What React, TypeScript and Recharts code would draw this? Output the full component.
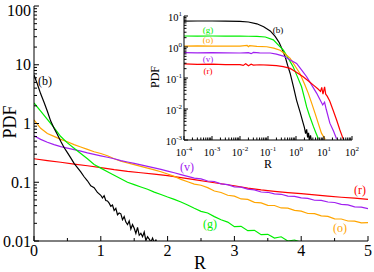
import React from 'react';
import { LineChart, Line, XAxis, YAxis } from 'recharts';

const SERIF = '"Liberation Serif", "Times New Roman", Times, serif';

const BLACK = '#000000';
const GREEN = '#00ee00';
const ORANGE = '#ffa500';
const VIOLET = '#a020f0';
const RED = '#ff0000';

// ---- main panel: PDF of R (linear R, log PDF) ----
const gridX = [
  0, 0.1, 0.2, 0.3, 0.4, 0.5, 0.6, 0.7, 0.8, 0.9, 1.0, 1.1, 1.2, 1.3, 1.4, 1.5, 1.6, 1.7, 1.8, 1.9,
  2.0, 2.1, 2.2, 2.3, 2.4, 2.5, 2.6, 2.7, 2.8, 2.9, 3.0, 3.1, 3.2, 3.3, 3.4, 3.5, 3.6, 3.7, 3.8, 3.9,
  4.0, 4.1, 4.2, 4.3, 4.4, 4.5, 4.6, 4.7, 4.8, 4.9, 5.0,
];
const redX = [0, 0.2, 0.4, 0.6, 0.8, 1.0, 1.2, 1.4, 1.6, 1.8, 2.0, 2.2, 2.4, 2.6, 2.8, 3.0, 3.2, 3.4, 3.6, 3.8, 4.0, 4.2, 4.4, 4.6, 4.8, 5.0];
const blackX = [
  0, 0.05, 0.1, 0.15, 0.2, 0.25, 0.3, 0.35, 0.4, 0.45, 0.5, 0.55, 0.6, 0.65, 0.7, 0.75, 0.8, 0.85, 0.9, 0.95,
  1.0, 1.025, 1.05, 1.075, 1.1, 1.125, 1.15, 1.175, 1.2, 1.225, 1.25, 1.275, 1.3, 1.325, 1.35, 1.375, 1.4,
  1.425, 1.45, 1.475, 1.5, 1.525, 1.55, 1.575, 1.6, 1.625, 1.65, 1.675, 1.7, 1.725, 1.75, 1.775, 1.8, 1.825,
  1.85, 1.875, 1.9,
];

const blackY = [
  6.7, 4.7, 3.2, 2.3, 1.62, 1.1, 0.83, 0.65, 0.5, 0.39, 0.32, 0.26, 0.21, 0.178, 0.15, 0.124, 0.106, 0.087, 0.081, 0.067,
  0.06, 0.054, 0.059, 0.049, 0.048, 0.044, 0.039, 0.041, 0.033, 0.036, 0.028, 0.03, 0.029, 0.023, 0.026, 0.021, 0.019,
  0.022, 0.016, 0.019, 0.0165, 0.0135, 0.017, 0.0125, 0.0135, 0.0118, 0.0142, 0.0102, 0.0118, 0.0108, 0.0096, 0.0112, 0.0094,
  0.0104, 0.0089, 0.0097, 0.0085,
];
const greenY = [
  2.24, 1.62, 1.17, 0.85, 0.6, 0.468, 0.38, 0.309, 0.251, 0.2, 0.174, 0.151, 0.132, 0.115, 0.1, 0.091, 0.083, 0.076, 0.068, 0.062,
  0.056, 0.051, 0.046, 0.041, 0.036, 0.032, 0.03, 0.026, 0.023, 0.021, 0.0175, 0.0178, 0.015, 0.0152, 0.0128, 0.013, 0.0112,
  0.0118, 0.01, 0.0104, 0.0095,
];
const orangeY = [
  1.15, 0.83, 0.676, 0.603, 0.537, 0.49, 0.437, 0.398, 0.363, 0.331, 0.309, 0.282, 0.251, 0.229, 0.214, 0.2, 0.186, 0.174, 0.162, 0.151,
  0.138, 0.126, 0.112, 0.102, 0.093, 0.089, 0.081, 0.071, 0.067, 0.06, 0.058, 0.052, 0.051, 0.0455, 0.0445, 0.0405, 0.0402, 0.0365,
  0.0362, 0.0332, 0.0322, 0.0294, 0.0292, 0.0268, 0.0262, 0.0238, 0.0237, 0.0219, 0.0218, 0.0203, 0.0206,
];
const violetY = [
  0.617, 0.537, 0.479, 0.437, 0.403, 0.38, 0.359, 0.339, 0.316, 0.299, 0.282, 0.266, 0.251, 0.234, 0.221, 0.209, 0.197, 0.186, 0.176, 0.166,
  0.155, 0.145, 0.135, 0.126, 0.1175, 0.114, 0.105, 0.103, 0.094, 0.091, 0.0835, 0.0825, 0.0762, 0.0741, 0.0683, 0.0675, 0.0636, 0.0624,
  0.0581, 0.0575, 0.0541, 0.0532, 0.0494, 0.049, 0.0461, 0.0452, 0.0419, 0.0413, 0.0382, 0.0378, 0.0355,
];
const redY = [
  0.251, 0.234, 0.219, 0.204, 0.191, 0.178, 0.164, 0.153, 0.145, 0.138, 0.13, 0.12, 0.111, 0.102, 0.0944, 0.0871, 0.0794, 0.0741, 0.07,
  0.0668, 0.0638, 0.061, 0.0582, 0.0556, 0.0537, 0.0513,
];

// ---- inset: same PDFs on log-log axes ----
const blackInsetR = [1e-4, 3e-4, 1e-3, 3e-3, 0.01, 0.02, 0.04, 0.07, 0.12, 0.18, 0.25, 0.32, 0.41, 0.5, 0.62, 0.8, 1.05, 1.4, 1.8, 2.0, 2.2, 2.4, 2.6, 2.8, 3.0, 3.3, 3.6];
const blackInsetY = [6.8, 6.9, 6.9, 6.8, 6.7, 6.4, 5.6, 4.5, 3.3, 2.2, 1.4, 0.85, 0.49, 0.26, 0.14, 0.055, 0.019, 0.0079, 0.0035, 0.0025, 0.0016, 0.0022, 0.0012, 0.0017, 0.001, 0.0014, 0.0009];
const greenInsetR = [1e-4, 3e-4, 1e-3, 3e-3, 0.01, 0.02, 0.04, 0.08, 0.155, 0.25, 0.355, 0.5, 0.79, 1.1, 1.58, 2.0, 2.4, 3.0, 4.2, 5.2, 6.3];
const greenInsetY = [2.26, 2.25, 2.26, 2.24, 2.23, 2.22, 2.2, 2.1, 1.7, 1.09, 0.79, 0.47, 0.23, 0.115, 0.052, 0.023, 0.0117, 0.0063, 0.0027, 0.00166, 0.0011];
const orangeInsetR = [1e-4, 3e-4, 1e-3, 3e-3, 0.01, 0.018, 0.02, 0.022, 0.04, 0.09, 0.16, 0.27, 0.42, 0.62, 0.95, 1.38, 2.0, 2.75, 3.6, 4.8, 6.2, 8.1, 11];
const orangeInsetY = [1.07, 1.08, 1.06, 1.07, 1.06, 1.12, 1.02, 1.1, 1.05, 1.02, 0.92, 0.79, 0.58, 0.43, 0.235, 0.14, 0.065, 0.032, 0.0158, 0.0072, 0.0035, 0.00166, 0.00105];
const violetInsetR = [1e-4, 3e-4, 1e-3, 3e-3, 0.01, 0.02, 0.025, 0.03, 0.05, 0.12, 0.2, 0.355, 0.6, 1.05, 1.6, 2.4, 3.6, 5.5, 7.0, 9.0, 10.5, 12, 16.2, 22, 28];
const violetInsetY = [0.66, 0.65, 0.66, 0.65, 0.64, 0.66, 0.61, 0.67, 0.65, 0.64, 0.59, 0.51, 0.39, 0.295, 0.18, 0.11, 0.06, 0.032, 0.021, 0.0135, 0.0165, 0.0098, 0.0035, 0.0019, 0.0011];
const redInsetR = [1e-4, 3e-4, 1e-3, 3e-3, 0.01, 0.013, 0.016, 0.02, 0.025, 0.03, 0.05, 0.1, 0.2, 0.35, 0.62, 1.0, 1.8, 3.0, 4.2, 6.0, 7.5, 8.3, 9.2, 10.5, 11.5, 13, 16, 21, 28, 37, 49];
const redInsetY = [0.285, 0.275, 0.28, 0.272, 0.27, 0.255, 0.29, 0.25, 0.28, 0.262, 0.268, 0.262, 0.25, 0.232, 0.204, 0.155, 0.11, 0.076, 0.059, 0.045, 0.037, 0.05, 0.03, 0.052, 0.03, 0.026, 0.018, 0.0093, 0.0045, 0.0021, 0.00105];

// ---- ticks ----
const mainXMajor = [0, 1, 2, 3, 4, 5];
const mainXMinor = [0.5, 1.5, 2.5, 3.5, 4.5];
const mainYMajor = [0.01, 0.1, 1, 10, 100];
const mainYLabels = ['0.01', '0.1', '1', '10', '100'];
const insetXMajor = [1e-4, 1e-3, 1e-2, 1e-1, 1, 10, 100];
const insetXExp = ['-4', '-3', '-2', '-1', '0', '1', '2'];
const insetYMajor = [1e-3, 1e-2, 1e-1, 1, 10];
const insetYExp = ['-3', '-2', '-1', '0', '1'];

const logMinors = (majors: number[]) => {
  const out: number[] = [];
  for (let i = 0; i < majors.length - 1; i++) {
    for (let m = 2; m <= 9; m++) out.push(m * majors[i]);
  }
  return out;
};

const mainXTicks = [...mainXMajor, ...mainXMinor];
const mainYTicks = [...mainYMajor, ...logMinors(mainYMajor)];
const insetXTicks = [...insetXMajor, ...logMinors(insetXMajor)];
const insetYTicks = [...insetYMajor, ...logMinors(insetYMajor)];

const zip = (xs: number[], ys: number[]) => ys.map((y, i) => ({ x: xs[i], y }));

type Side = 'left' | 'right' | 'top' | 'bottom';

// inward tick marks, labels only on majors
function tickRenderer(
  side: Side,
  majors: number[],
  majorLen: number,
  minorLen: number,
  label?: (i: number, x: number, y: number) => React.ReactNode,
) {
  return (props: any) => {
    const { x, y, payload } = props;
    const idx = majors.indexOf(payload.value);
    const len = idx >= 0 ? majorLen : minorLen;
    const dx = side === 'left' ? len : side === 'right' ? -len : 0;
    const dy = side === 'bottom' ? -len : side === 'top' ? len : 0;
    return (
      <g>
        <line x1={x} y1={y} x2={x + dx} y2={y + dy} stroke="#000" strokeWidth={1} />
        {idx >= 0 && label ? label(idx, x, y) : null}
      </g>
    );
  };
}

const mainYLabel = (i: number, x: number, y: number) => (
  <text x={x - 3} y={y} dy={i === mainYLabels.length - 1 ? 9.5 : 5.5} textAnchor="end" fontFamily={SERIF} fontSize={16} fill="#000">
    {mainYLabels[i]}
  </text>
);
const mainXLabel = (i: number, x: number, y: number) => (
  <text x={x} y={y + 15} textAnchor="middle" fontFamily={SERIF} fontSize={16} fill="#000">
    {mainXMajor[i]}
  </text>
);
const insetXLabel = (i: number, x: number, y: number) => (
  <text x={x} y={y + 16} textAnchor="middle" fontFamily={SERIF} fontSize={10.5} fill="#000">
    <tspan>10</tspan>
    <tspan dy={-5} fontSize={7}>{insetXExp[i]}</tspan>
  </text>
);
const insetYLabel = (i: number, x: number, y: number) => (
  <text x={x - 2} y={y + 5} textAnchor="end" fontFamily={SERIF} fontSize={10.5} fill="#000">
    <tspan>10</tspan>
    <tspan dy={-5} fontSize={7}>{insetYExp[i]}</tspan>
  </text>
);

const axisCommon = {
  allowDataOverflow: true,
  interval: 0 as const,
  tickSize: 0,
  tickMargin: 0,
  tickLine: false,
  axisLine: { stroke: '#000', strokeWidth: 1 },
};

const mainSeries = [
  { name: 'r', color: RED, data: zip(redX, redY) },
  { name: 'o', color: ORANGE, data: zip(gridX, orangeY) },
  { name: 'v', color: VIOLET, data: zip(gridX, violetY) },
  { name: 'g', color: GREEN, data: zip(gridX, greenY) },
  { name: 'b', color: BLACK, data: zip(blackX, blackY) },
];
const insetSeries = [
  { name: 'b', color: BLACK, data: zip(blackInsetR, blackInsetY) },
  { name: 'g', color: GREEN, data: zip(greenInsetR, greenInsetY) },
  { name: 'o', color: ORANGE, data: zip(orangeInsetR, orangeInsetY) },
  { name: 'v', color: VIOLET, data: zip(violetInsetR, violetInsetY) },
  { name: 'r', color: RED, data: zip(redInsetR, redInsetY) },
];

function MainPanel() {
  return (
    <LineChart width={374} height={272} margin={{ top: 6, right: 6, bottom: 0, left: 0 }}>
      <XAxis xAxisId="b" type="number" dataKey="x" domain={[0, 5]} ticks={mainXTicks} height={31}
        {...axisCommon} tick={tickRenderer('bottom', mainXMajor, 5, 3, mainXLabel)} />
      <XAxis xAxisId="t" orientation="top" type="number" dataKey="x" domain={[0, 5]} ticks={mainXTicks} height={0}
        {...axisCommon} tick={tickRenderer('top', mainXMajor, 5, 3)} />
      <YAxis yAxisId="l" type="number" scale="log" domain={[0.01, 100]} ticks={mainYTicks} width={34}
        {...axisCommon} tick={tickRenderer('left', mainYMajor, 5, 3, mainYLabel)} />
      <YAxis yAxisId="r" orientation="right" type="number" scale="log" domain={[0.01, 100]} ticks={mainYTicks} width={0}
        {...axisCommon} tick={tickRenderer('right', mainYMajor, 5, 3)} />
      {mainSeries.map((s) => (
        <Line key={s.name} xAxisId="b" yAxisId="l" data={s.data} dataKey="y" type="linear"
          stroke={s.color} strokeWidth={1.2} dot={false} isAnimationActive={false} />
      ))}
    </LineChart>
  );
}

function InsetPanel() {
  return (
    <LineChart width={224} height={172} margin={{ top: 16, right: 12, bottom: 0, left: 0 }}>
      <XAxis xAxisId="b" type="number" scale="log" dataKey="x" domain={[1e-4, 100]} ticks={insetXTicks} height={32}
        {...axisCommon} tick={tickRenderer('bottom', insetXMajor, 4, 2.5, insetXLabel)} />
      <XAxis xAxisId="t" orientation="top" type="number" scale="log" dataKey="x" domain={[1e-4, 100]} ticks={insetXTicks} height={0}
        {...axisCommon} tick={tickRenderer('top', insetXMajor, 4, 2.5)} />
      <YAxis yAxisId="l" type="number" scale="log" domain={[1e-3, 10]} ticks={insetYTicks} width={44}
        {...axisCommon} tick={tickRenderer('left', insetYMajor, 4, 2.5, insetYLabel)} />
      <YAxis yAxisId="r" orientation="right" type="number" scale="log" domain={[1e-3, 10]} ticks={insetYTicks} width={0}
        {...axisCommon} tick={tickRenderer('right', insetYMajor, 4, 2.5)} />
      {insetSeries.map((s) => (
        <Line key={s.name} xAxisId="b" yAxisId="l" data={s.data} dataKey="y" type="linear"
          stroke={s.color} strokeWidth={1.2} dot={false} isAnimationActive={false} />
      ))}
    </LineChart>
  );
}

// series tags and axis titles
const tags = [
  { t: '(b)', x: 45, y: 85, c: BLACK, s: 12 },
  { t: '(v)', x: 187, y: 171, c: VIOLET, s: 12 },
  { t: '(r)', x: 360, y: 194, c: RED, s: 12 },
  { t: '(o)', x: 340, y: 232, c: ORANGE, s: 12 },
  { t: '(g)', x: 210, y: 228, c: GREEN, s: 12 },
  { t: '(g)', x: 208, y: 33, c: GREEN, s: 9 },
  { t: '(o)', x: 208, y: 43, c: ORANGE, s: 9 },
  { t: '(v)', x: 208, y: 62, c: VIOLET, s: 9 },
  { t: '(r)', x: 208, y: 74, c: RED, s: 9 },
  { t: '(b)', x: 278, y: 33, c: BLACK, s: 9 },
];

export default function App() {
  return (
    <div style={{ position: 'absolute', left: 0, top: 0, width: 374, height: 272, background: '#fff', overflow: 'hidden' }}>
      <div style={{ position: 'absolute', left: 0, top: 0 }}>
        <MainPanel />
      </div>
      <div style={{ position: 'absolute', left: 184, top: 16, width: 168, height: 124, background: '#fff' }} />
      <div style={{ position: 'absolute', left: 140, top: 0 }}>
        <InsetPanel />
      </div>
      <svg width={374} height={272} style={{ position: 'absolute', left: 0, top: 0, pointerEvents: 'none' }}>
        {tags.map((g, i) => (
          <text key={i} x={g.x} y={g.y} textAnchor="middle" fontFamily={SERIF} fontSize={g.s} fill={g.c}>{g.t}</text>
        ))}
        <text x={200} y={269} textAnchor="middle" fontFamily={SERIF} fontSize={18}>R</text>
        <text transform="translate(16,122) rotate(-90)" textAnchor="middle" fontFamily={SERIF} fontSize={18}>PDF</text>
        <text x={268} y={168} textAnchor="middle" fontFamily={SERIF} fontSize={12}>R</text>
        <text transform="translate(159,77) rotate(-90)" textAnchor="middle" fontFamily={SERIF} fontSize={12}>PDF</text>
      </svg>
    </div>
  );
}
